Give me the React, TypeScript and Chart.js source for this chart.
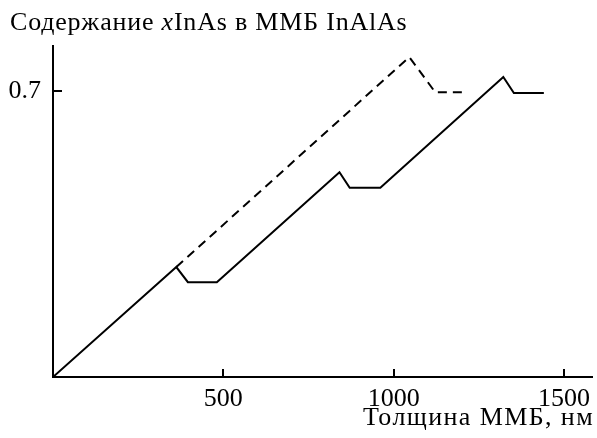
import React, { useEffect, useRef } from "react";
import { Chart, registerables } from "chart.js";

Chart.register(...registerables);

// Solid line: MMB with inverse steps
const solidX = [0, 362, 396, 481, 841, 871, 961, 1322, 1353, 1441];
const solidY = [0, 0.269, 0.232, 0.232, 0.501, 0.463, 0.463, 0.734, 0.695, 0.695];
// Dashed line: MMB with a single inverse step
const dashX = [362, 1046, 1122, 1210];
const dashY = [0.269, 0.783, 0.697, 0.697];

const xTicks = [500, 1000, 1500];
const yTicks = [0.7];
const xMin = 0;
const xMax = 1585;
const yMin = 0;
const yMax = 0.81;

const FONT = '"Liberation Serif", "Times New Roman", serif';

const inwardTicks = {
  id: "inwardTicks",
  afterDraw(chart: any) {
    const { ctx, chartArea, scales } = chart;
    ctx.save();
    ctx.strokeStyle = "#000";
    ctx.lineWidth = 2;
    ctx.beginPath();
    xTicks.forEach((v) => {
      const px = Math.round(scales.x.getPixelForValue(v));
      ctx.moveTo(px, chartArea.bottom);
      ctx.lineTo(px, chartArea.bottom - 8);
    });
    yTicks.forEach((v) => {
      const py = Math.round(scales.y.getPixelForValue(v));
      ctx.moveTo(chartArea.left, py);
      ctx.lineTo(chartArea.left + 9, py);
    });
    ctx.stroke();
    ctx.restore();
  },
};

export default function App() {
  const ref = useRef<HTMLCanvasElement>(null);

  useEffect(() => {
    if (!ref.current) return;
    const chart = new Chart(ref.current, {
      type: "line",
      data: {
        datasets: [
          {
            data: solidX.map((x, i) => ({ x, y: solidY[i] })),
            borderColor: "#000",
            borderWidth: 2,
            pointRadius: 0,
            tension: 0,
            fill: false,
          },
          {
            data: dashX.map((x, i) => ({ x, y: dashY[i] })),
            borderColor: "#000",
            borderWidth: 2,
            borderDash: [9, 6],
            pointRadius: 0,
            tension: 0,
            fill: false,
          },
        ],
      },
      options: {
        animation: false,
        responsive: false,
        maintainAspectRatio: false,
        layout: { padding: { top: 46, right: 1, left: 0, bottom: 0 } },
        plugins: { legend: { display: false }, tooltip: { enabled: false } },
        scales: {
          x: {
            type: "linear",
            min: xMin,
            max: xMax,
            afterBuildTicks: (s: any) => {
              s.ticks = xTicks.map((value) => ({ value }));
            },
            afterFit: (s: any) => {
              s.height = 61;
            },
            grid: { display: false, drawTicks: false },
            border: { display: true, color: "#000", width: 2 },
            ticks: {
              color: "#000",
              font: { family: FONT, size: 26 },
              padding: 7,
              maxRotation: 0,
              autoSkip: false,
              callback: (v: any) => String(v),
            },
          },
          y: {
            type: "linear",
            min: yMin,
            max: yMax,
            afterBuildTicks: (s: any) => {
              s.ticks = yTicks.map((value) => ({ value }));
            },
            afterFit: (s: any) => {
              s.width = 53;
            },
            grid: { display: false, drawTicks: false },
            border: { display: true, color: "#000", width: 2 },
            ticks: {
              color: "#000",
              font: { family: FONT, size: 26 },
              padding: 12,
              autoSkip: false,
              callback: (v: any) => String(v),
            },
          },
        },
      },
      plugins: [inwardTicks],
    });
    return () => chart.destroy();
  }, []);

  return (
    <div
      style={{
        position: "absolute",
        left: 0,
        top: 0,
        width: 597,
        height: 438,
        background: "#fff",
        fontFamily: FONT,
        color: "#000",
        overflow: "hidden",
      }}
    >
      <canvas ref={ref} width={597} height={438} style={{ position: "absolute", left: 0, top: 0 }} />
      <div
        style={{
          position: "absolute",
          left: 10,
          top: 9,
          fontSize: 26,
          lineHeight: "26px",
          letterSpacing: "0.8px",
          whiteSpace: "nowrap",
        }}
      >
        Содержание <i>x</i>InAs в ММБ InAlAs
      </div>
      <div
        style={{
          position: "absolute",
          right: 3,
          top: 404,
          fontSize: 26,
          lineHeight: "26px",
          letterSpacing: "1.4px",
          whiteSpace: "nowrap",
        }}
      >
        Толщина ММБ, нм
      </div>
    </div>
  );
}
